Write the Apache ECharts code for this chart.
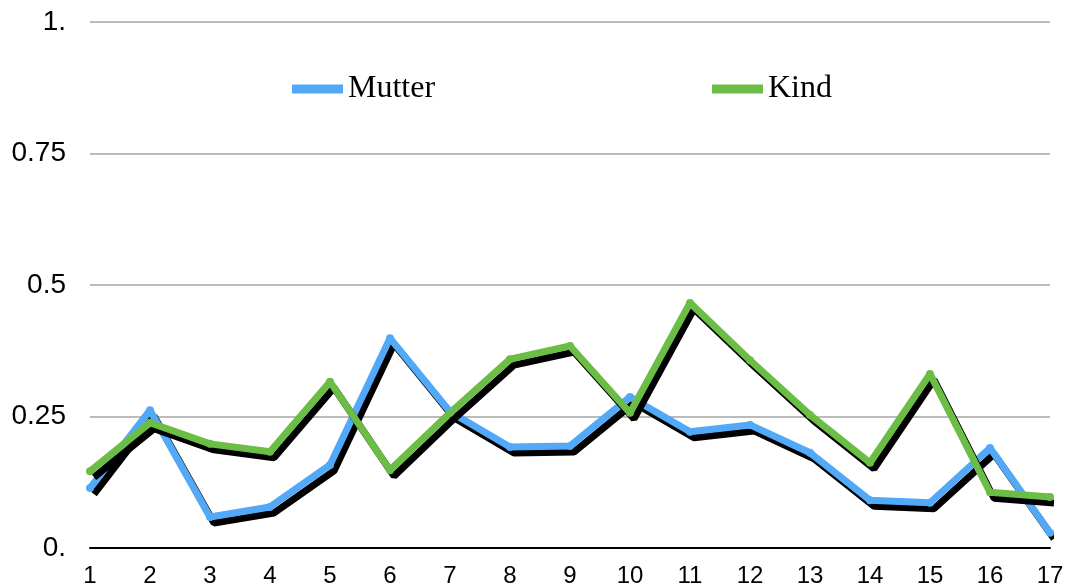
<!DOCTYPE html>
<html>
<head>
<meta charset="utf-8">
<script src="https://cdn.jsdelivr.net/npm/echarts@6/dist/echarts.min.js"></script>
<style>html,body{margin:0;padding:0;background:#fff}#c{width:1068px;height:588px}</style>
</head>
<body>
<div id="c"></div>
<script>
var categories = ['1','2','3','4','5','6','7','8','9','10','11','12','13','14','15','16','17'];
var mutter = [0.114,0.262,0.059,0.078,0.158,0.399,0.259,0.192,0.194,0.287,0.221,0.234,0.181,0.091,0.086,0.190,0.029];
var kind = [0.146,0.238,0.198,0.183,0.316,0.148,0.257,0.359,0.384,0.257,0.466,0.357,0.253,0.162,0.331,0.106,0.097];
var yTicks = {0:'0.', 0.25:'0.25', 0.5:'0.5', 0.75:'0.75', 1:'1.'};

var chart = echarts.init(document.getElementById('c'));
function mk(name, data, color){
  return {
    name: name, type: 'line', data: data,
    symbol: 'circle', symbolSize: 8, showSymbol: true,
    itemStyle: {color: color},
    lineStyle: {color: color, width: 7, shadowColor: '#000', shadowBlur: 0, shadowOffsetX: 4, shadowOffsetY: 6},
    emphasis: {disabled: true}, animation: false
  };
}
var legendText = {fontFamily: 'Liberation Serif', fontSize: 32, color: '#000'};
var noShadow = {shadowBlur: 0, shadowOffsetX: 0, shadowOffsetY: 0, shadowColor: 'transparent'};
chart.setOption({
  animation: false,
  grid: {left: 90, right: 18, top: 22, bottom: 40, containLabel: false},
  legend: [
    {data: ['Mutter'], left: 292, top: 73, padding: 0, itemWidth: 51, itemHeight: 9, icon: 'rect', itemGap: 5, textStyle: legendText, itemStyle: noShadow},
    {data: ['Kind'], left: 712, top: 73, padding: 0, itemWidth: 51, itemHeight: 9, icon: 'rect', itemGap: 5, textStyle: legendText, itemStyle: noShadow}
  ],
  xAxis: {
    type: 'category', data: categories, boundaryGap: false,
    axisLine: {lineStyle: {color: '#000', width: 2}},
    axisTick: {show: false},
    axisLabel: {color: '#000', fontFamily: 'Liberation Sans', fontSize: 24, margin: 16, interval: 0}
  },
  yAxis: {
    type: 'value', min: 0, max: 1, interval: 0.25,
    axisLine: {show: false}, axisTick: {show: false},
    splitLine: {lineStyle: {color: '#BBBBBB', width: 2}},
    axisLabel: {color: '#000', fontFamily: 'Liberation Sans', fontSize: 28, margin: 24,
      formatter: function(v){ return yTicks[v] !== undefined ? yTicks[v] : String(v); }}
  },
  series: [mk('Mutter', mutter, '#52A9F8'), mk('Kind', kind, '#6CBD45')]
});
</script>
</body>
</html>
